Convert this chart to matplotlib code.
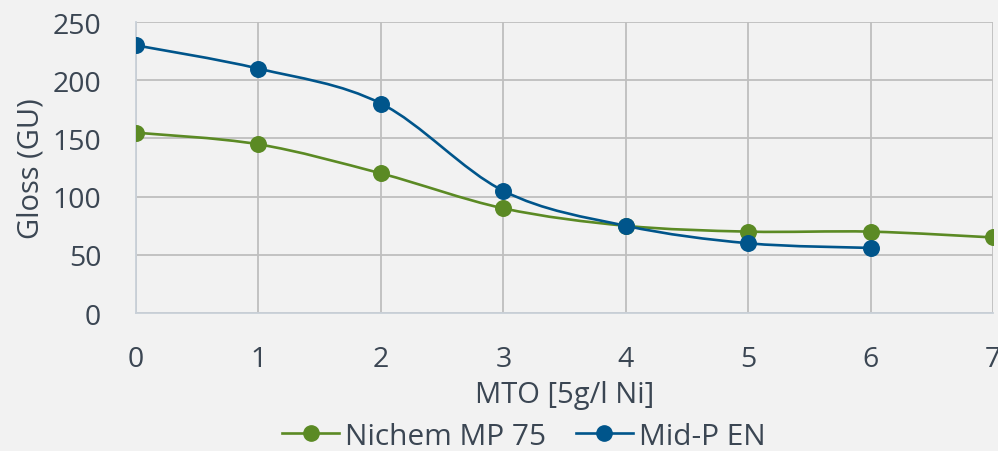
import numpy as np
import matplotlib.pyplot as plt
from matplotlib.path import Path
from matplotlib.patches import PathPatch
from matplotlib.lines import Line2D

plt.rcParams['font.family'] = ['Open Sans', 'DejaVu Sans']

mto = [0, 1, 2, 3, 4, 5, 6, 7]
nichem = [155, 145, 120, 90, 75, 70, 70, 65]
midp_x = [0, 1, 2, 3, 4, 5, 6]
midp = [230, 210, 180, 105, 75, 60, 56]

green = '#5b8a24'
blue = '#00558b'
txt = '#3b4653'
bg = '#f2f2f2'


def smooth_path(x, y):
    # Excel-style smoothed line: cubic bezier through the points
    x = np.asarray(x, float)
    y = np.asarray(y, float)
    n = len(x)
    verts = [(x[0], y[0])]
    codes = [Path.MOVETO]
    for i in range(n - 1):
        p0 = (x[max(i - 1, 0)], y[max(i - 1, 0)])
        p1 = (x[i], y[i])
        p2 = (x[i + 1], y[i + 1])
        p3 = (x[min(i + 2, n - 1)], y[min(i + 2, n - 1)])
        c1 = (p1[0] + (p2[0] - p0[0]) / 6, p1[1] + (p2[1] - p0[1]) / 6)
        c2 = (p2[0] - (p3[0] - p1[0]) / 6, p2[1] - (p3[1] - p1[1]) / 6)
        verts += [c1, c2, p2]
        codes += [Path.CURVE4] * 3
    return Path(verts, codes)


fig = plt.figure(figsize=(9.98, 4.52), dpi=100, facecolor=bg)
ax = fig.add_axes([0.1363, 0.305, 0.859, 0.644])
ax.set_facecolor(bg)

for xs, ys, c in [(mto, nichem, green), (midp_x, midp, blue)]:
    ax.add_patch(PathPatch(smooth_path(xs, ys), facecolor='none',
                           edgecolor=c, lw=1.9, zorder=3))
    ax.plot(xs, ys, 'o', color=c, ms=11.2, zorder=4)

ax.set_xlim(0, 7)
ax.set_ylim(0, 250)
ax.set_xticks(range(0, 8))
ax.set_yticks(range(0, 251, 50))
ax.grid(True, color='#bfbfbf', lw=1.3, zorder=0)
for s in ['top', 'right']:
    ax.spines[s].set_visible(False)
for s in ['left', 'bottom']:
    ax.spines[s].set_color('#c9d0d8')
    ax.spines[s].set_linewidth(1.3)
ax.tick_params(length=0, labelsize=20.5, colors=txt)
ax.tick_params(axis='y', pad=25)
ax.tick_params(axis='x', pad=23)
ax.set_xlabel('MTO [5g/l Ni]', fontsize=21, color=txt, labelpad=5)
ax.set_ylabel('Gloss (GU)', fontsize=21, color=txt, labelpad=5)

handles = [Line2D([], [], color=green, lw=1.9, marker='o', ms=11),
           Line2D([], [], color=blue, lw=1.9, marker='o', ms=11)]
fig.legend(handles, ['Nichem MP 75', 'Mid-P EN'], loc='center',
           bbox_to_anchor=(0.525, 0.033), ncol=2, frameon=False,
           fontsize=21.5, labelcolor=txt, handlelength=1.9,
           handletextpad=0.2, columnspacing=1.0, borderpad=0)

fig.savefig('out.png', dpi=100, facecolor=bg)
